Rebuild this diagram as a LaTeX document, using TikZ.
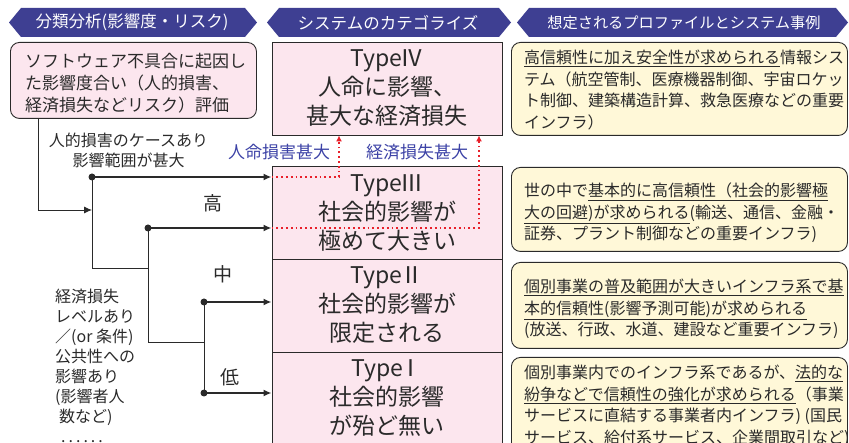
\documentclass[tikz,border=0pt]{standalone}
\usepackage{fontspec}
\setmainfont{Noto Sans CJK JP}
\usepackage{tikz}
\usetikzlibrary{arrows.meta}
\usetikzlibrary{calc}
\usetikzlibrary{positioning}
\definecolor{bannerblue}{HTML}{3E3F92}
\definecolor{typepink}{HTML}{FCE6EE}
\definecolor{profcream}{HTML}{FFF8D8}
\definecolor{inkgray}{HTML}{2A2A2A}
\definecolor{labelblue}{HTML}{3C42A6}
\definecolor{dotred}{HTML}{E8202A}
\begin{document}
\begin{tikzpicture}[x=1pt,y=-1pt,
    banner/.style={fill=bannerblue},
    bannertext/.style={text=white,font=\fontsize{16.5}{20}\selectfont,inner sep=0pt},
    evalbox/.style={draw=inkgray,fill=typepink,rounded corners=9pt,line width=0.9pt,minimum width=246,minimum height=76},
    typebox/.style={draw=inkgray,fill=typepink,line width=0.9pt,minimum width=230,minimum height=93,align=center,text=inkgray,font=\fontsize{23}{29}\selectfont},
    profbox/.style={draw=inkgray,fill=profcream,rounded corners=9pt,line width=0.9pt},
    proftext/.style={anchor=north west,align=left,inner sep=0pt,text=inkgray,font=\fontsize{16}{21.5}\selectfont},
    evaltext/.style={anchor=north west,align=left,inner sep=0pt,text=inkgray,font=\fontsize{17}{22}\selectfont},
    treetext/.style={align=left,inner sep=0pt,text=inkgray,font=\fontsize{16}{20}\selectfont},
    level/.style={text=inkgray,font=\fontsize{19}{22}\selectfont,inner sep=0pt},
    impact/.style={text=labelblue,font=\fontsize{17}{20}\selectfont,inner sep=0pt},
    joint/.style={circle,fill=inkgray,inner sep=0pt,minimum size=7pt},
    tree/.style={draw=inkgray,line width=0.9pt},
    feed/.style={draw=inkgray,line width=0.9pt,-{Latex[length=8pt,width=7pt]}},
    branch/.style={draw=inkgray,line width=1.8pt,-{Latex[length=8pt,width=7pt]}},
    escalate/.style={draw=dotred,line width=1.8pt,dash pattern=on 1.8pt off 3pt,-{Latex[length=6pt,width=6pt]}}]
  \useasboundingbox (0,0) rectangle (849,443);
  \fill[banner] (9,22.5) -- (21,8) -- (245,8) -- (257,22.5) -- (245,37) -- (21,37) -- cycle;
  \fill[banner] (267,22.5) -- (279,8) -- (499,8) -- (511,22.5) -- (499,37) -- (279,37) -- cycle;
  \fill[banner] (517,22.5) -- (529,8) -- (836,8) -- (848,22.5) -- (836,37) -- (529,37) -- cycle;
  \node[bannertext] (head1) at (132,22.5) {分類分析(影響度・リスク)};
  \node[bannertext] (head2) at (388,22.5) {システムのカテゴライズ};
  \node[bannertext,font=\fontsize{15.2}{18}\selectfont] (head3) at (684,22.5) {想定されるプロファイルとシステム事例};
  \node[evalbox,anchor=north west] (assess) at (10,42) {};
  \node[evaltext] (assesstext) at (25,53.5) {ソフトウェア不具合に起因し\\た影響度合い（人的損害、\\経済損失などリスク）評価};
  \node[typebox] (type4) at (387,88.5) {Type\hspace{-2pt}Ⅳ\\人命に影響、\\甚大な経済損失};
  \node[typebox] (type3) at (387,212.5) {Type\hspace{-2pt}Ⅲ\\社会的影響が\\極めて大きい};
  \node[typebox] (type2) at (387,305.5) {Type\hspace{-2pt}Ⅱ\\社会的影響が\\限定される};
  \node[typebox] (type1) at (387,398.5) {Type\hspace{-4pt}Ⅰ\\社会的影響\\が殆ど無い};
  \node[profbox,anchor=north west,minimum width=336,minimum height=93] (prof4) at (511,42) {};
  \node[profbox,anchor=north west,minimum width=336,minimum height=84] (prof3) at (511,167) {};
  \node[profbox,anchor=north west,minimum width=336,minimum height=86] (prof2) at (511,262) {};
  \node[profbox,anchor=north west,minimum width=336,minimum height=95] (prof1) at (511,357) {};
  \node[proftext] (prof4text) at (524,50) {\underline{高信頼性に加え安全性が求められる}情報シス\\テム（航空管制、医療機器制御、宇宙ロケッ\\ト制御、建築構造計算、救急医療などの重要\\インフラ）};
  \node[proftext] (prof3text) at (524,183) {世の中で\underline{基本的に高信頼性（社会的影響極}\\\underline{大の回避)が求められる}(輸送、通信、金融・\\証券、プラント制御などの重要インフラ)};
  \node[proftext] (prof2text) at (524,279) {\underline{個別事業の普及範囲が大きいインフラ系で基}\\\underline{本的信頼性(影響予測可能)が求められる}\\(放送、行政、水道、建設など重要インフラ)};
  \node[proftext] (prof1text) at (524,365) {個別事業内でのインフラ系であるが、\underline{法的な}\\\underline{紛争などで信頼性の強化が求められる}（事業\\サービスに直結する事業者内インフラ) (国民\\サービス、給付系サービス、企業間取引など)};
  \node[treetext,align=center] (humancase) at (128.5,150.5) {人的損害のケースあり\\影響範囲が甚大};
  \node[treetext,anchor=north west] (econcase) at (55,289) {経済損失\\レベルあり\\／(or 条件)\\公共性への\\影響あり\\(影響者人\\\hspace{4pt}数など)\\\hspace{6pt}.\hspace{3pt}.\hspace{3pt}.\hspace{3pt}.\hspace{3pt}.\hspace{3pt}.};
  \node[level] (high) at (213,203) {高};
  \node[level] (mid) at (223,274) {中};
  \node[level] (low) at (230,377) {低};
  \node[impact] (lifeloss) at (279,152) {人命損害甚大};
  \node[impact] (econloss) at (417,152) {経済損失甚大};
  \node[joint] (j1) at (92,177) {};
  \node[joint] (j2) at (148,228) {};
  \node[joint] (j3) at (204,302) {};
  \node[joint] (j4) at (204,393) {};
  \coordinate (k0) at (38,210);
  \coordinate (k1) at (148,268);
  \coordinate (k2) at (204,342);
  \coordinate (r1) at (339,177);
  \coordinate (r2) at (479,228);
  \draw[feed] (assess.south -| k0) -- (k0) -- (k0 -| j1);
  \draw[tree] (j1.center) -- (j1 |- k1) -- (k1);
  \draw[tree] (j2.center) -- (j2 |- k2) -- (k2);
  \draw[tree] (j3.center) -- (j4.center);
  \draw[branch] (j1.center) -- (j1 -| type3.west);
  \draw[branch] (j2.center) -- (j2 -| type3.west);
  \draw[branch] (j3.center) -- (j3 -| type2.west);
  \draw[branch] (j4.center) -- (j4 -| type1.west);
  \draw[escalate] (j1 -| type3.west) -- (r1) -- (r1 |- type4.south);
  \draw[escalate] (j2 -| type3.west) -- (r2) -- (r2 |- type4.south);
\end{tikzpicture}
\end{document}
